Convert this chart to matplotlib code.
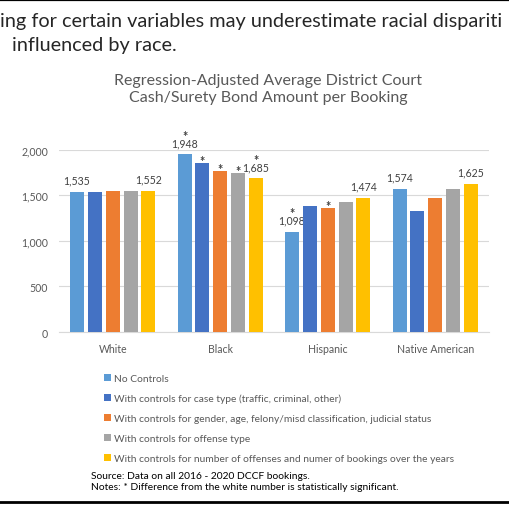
import matplotlib
matplotlib.use('Agg')
import matplotlib.pyplot as plt
import numpy as np

plt.rcParams['font.family'] = ['Lato', 'DejaVu Sans']

categories = ['White', 'Black', 'Hispanic', 'Native American']
series_names = [
    'No Controls',
    'With controls for case type (traffic, criminal, other)',
    'With controls for gender, age, felony/misd classification, judicial status',
    'With controls for offense type',
    'With controls for number of offenses and numer of bookings over the years',
]
no_controls = [1535, 1948, 1098, 1574]
case_type = [1535, 1850, 1385, 1326]
gender_age = [1550, 1762, 1359, 1475]
offense_type = [1550, 1740, 1429, 1568]
num_offenses = [1552, 1685, 1474, 1625]
series_values = [no_controls, case_type, gender_age, offense_type, num_offenses]

sig_no_controls = [False, True, True, False]
sig_case_type = [False, True, False, False]
sig_gender_age = [False, True, True, False]
sig_offense_type = [False, True, False, False]
sig_num_offenses = [False, True, False, False]
significance = [sig_no_controls, sig_case_type, sig_gender_age, sig_offense_type, sig_num_offenses]
labeled = [True, False, False, False, True]

colors = ['#5B9BD5', '#4472C4', '#ED7D31', '#A5A5A5', '#FFC000']
yticks = [0, 500, 1000, 1500, 2000]

W, H = 510, 510
fig = plt.figure(figsize=(5.1, 5.1), dpi=100)

def fx(px):
    return px / W

def fy(py):
    return 1 - py / H

ax = fig.add_axes([fx(59), fy(333), fx(489) - fx(59), fy(150.7) - fy(333)])
x = np.arange(len(categories))
pitch = 0.166
width = 0.13
handles = []
for i, vals in enumerate(series_values):
    off = (i - 2) * pitch
    bars = ax.bar(x + off, vals, width, color=colors[i], label=series_names[i], zorder=3)
    handles.append(bars)
    for j, v in enumerate(vals):
        if labeled[i]:
            ax.annotate(f'{v:,}', (x[j] + off, v), xytext=(0, 8.6), textcoords='offset points',
                        ha='center', va='center', fontsize=7.6, color='#404040', annotation_clip=False)
            if significance[i][j]:
                ax.annotate('*', (x[j] + off, v), xytext=(0, 13.5), textcoords='offset points',
                            ha='center', va='center', fontsize=9, fontweight='bold',
                            color='#404040', annotation_clip=False)
        elif significance[i][j]:
            ax.annotate('*', (x[j] + off, v), xytext=(0, 1.6), textcoords='offset points',
                        ha='center', va='center', fontsize=9, fontweight='bold',
                        color='#404040', annotation_clip=False)

ax.set_xlim(-0.5, 3.5)
ax.set_ylim(0, 2000)
ax.set_yticks(yticks)
ax.set_yticklabels([f'{t:,}' for t in yticks])
ax.set_xticks(x)
ax.set_xticklabels(categories)
ax.tick_params(axis='both', length=0, labelsize=7.6, colors='#595959')
ax.tick_params(axis='y', pad=8)
ax.tick_params(axis='x', pad=8)
ax.grid(axis='y', color='#D9D9D9', linewidth=0.8, zorder=0)
for s in ['top', 'right', 'left']:
    ax.spines[s].set_visible(False)
ax.spines['bottom'].set_color('#D9D9D9')
ax.spines['bottom'].set_linewidth(0.8)

fig.legend(handles=handles, labels=series_names, loc='upper left',
           bbox_to_anchor=(fx(104), fy(374.5)), frameon=False, fontsize=7.4,
           labelcolor='#595959', handlelength=0.7, handleheight=0.7,
           handletextpad=0.3, labelspacing=1.05, borderaxespad=0, borderpad=0)

fig.text(fx(268), fy(89.5), 'Regression-Adjusted Average District Court\nCash/Surety Bond Amount per Booking',
         ha='center', va='center', fontsize=11.5, color='#595959', linespacing=1.25)

fig.text(fx(0.5), fy(21), 'ing for certain variables may underestimate racial dispariti',
         ha='left', va='center', fontsize=14.3, color='#262626')
fig.text(fx(12), fy(46), 'influenced by race.',
         ha='left', va='center', fontsize=14.3, color='#262626')

fig.text(fx(90.7), fy(476.7), 'Source: Data on all 2016 - 2020 DCCF bookings.',
         ha='left', va='center', fontsize=7.35, color='black')
fig.text(fx(90.7), fy(487.5), 'Notes: * Difference from the white number is statistically significant.',
         ha='left', va='center', fontsize=7.35, color='black')

fig.add_artist(plt.Line2D([0, 1], [fy(1), fy(1)], color='black', linewidth=1.6, transform=fig.transFigure))
fig.add_artist(plt.Line2D([0, 1], [fy(503), fy(503)], color='black', linewidth=2.0, transform=fig.transFigure))

fig.savefig('out.png', dpi=100)
